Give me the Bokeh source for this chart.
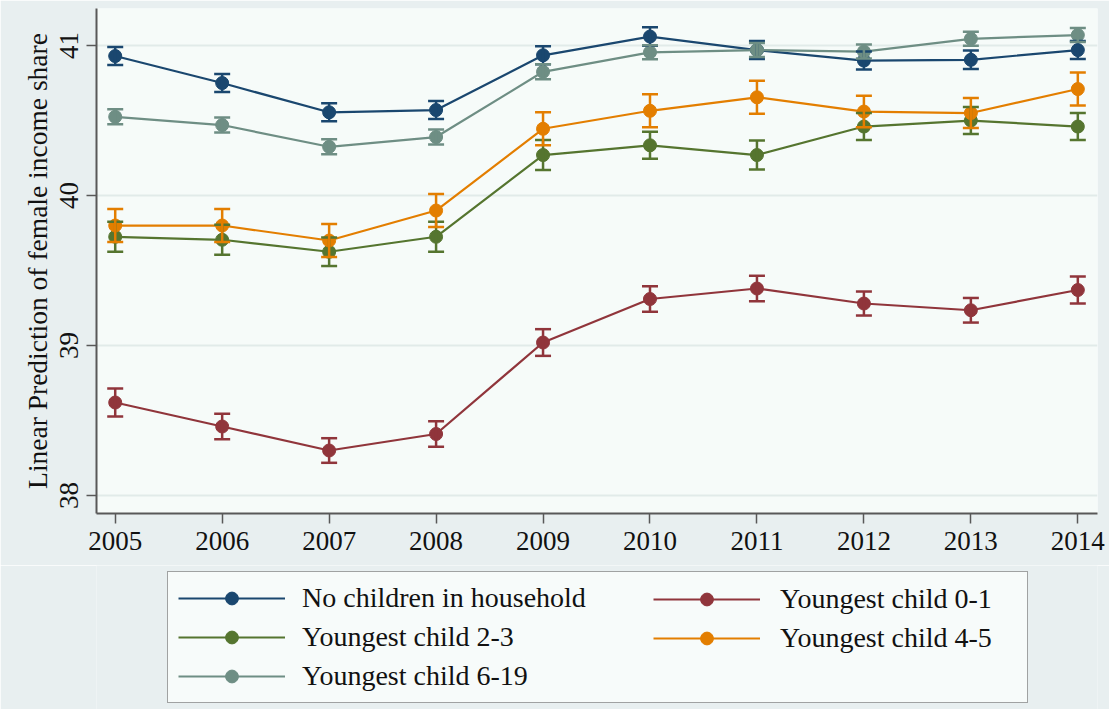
from bokeh.plotting import figure
from bokeh.layouts import column
from bokeh.models import (ColumnDataSource, Whisker, TeeHead, Range1d, FixedTicker,
                          Legend, LegendItem)
from bokeh.embed import file_html
from bokeh.resources import INLINE

# ---- data ----
years = [2005, 2006, 2007, 2008, 2009, 2010, 2011, 2012, 2013, 2014]

series_names = ["No children in household", "Youngest child 0-1", "Youngest child 2-3",
                "Youngest child 4-5", "Youngest child 6-19"]

no_children = [40.93, 40.75, 40.555, 40.57, 40.935, 41.06, 40.97, 40.90, 40.905, 40.97]
child_0_1 = [38.62, 38.46, 38.30, 38.41, 39.02, 39.31, 39.38, 39.28, 39.235, 39.37]
child_2_3 = [39.725, 39.705, 39.625, 39.725, 40.27, 40.335, 40.27, 40.46, 40.50, 40.46]
child_4_5 = [39.80, 39.80, 39.70, 39.90, 40.445, 40.565, 40.655, 40.56, 40.55, 40.71]
child_6_19 = [40.525, 40.47, 40.325, 40.39, 40.825, 40.955, 40.97, 40.96, 41.045, 41.07]

# half-widths of the confidence intervals
ci_no_children = [0.06, 0.06, 0.06, 0.06, 0.06, 0.062, 0.06, 0.06, 0.062, 0.06]
ci_0_1 = [0.093, 0.085, 0.082, 0.085, 0.089, 0.085, 0.085, 0.08, 0.082, 0.09]
ci_2_3 = [0.10, 0.10, 0.095, 0.10, 0.10, 0.09, 0.097, 0.09, 0.09, 0.09]
ci_4_5 = [0.11, 0.11, 0.11, 0.11, 0.11, 0.11, 0.11, 0.105, 0.10, 0.11]
ci_6_19 = [0.05, 0.05, 0.05, 0.05, 0.05, 0.047, 0.047, 0.047, 0.047, 0.047]

y_ticks = [38, 39, 40, 41]
y_label = "Linear Prediction of female income share"

colors = ["#1a476f", "#90353b", "#55752f", "#e37e00", "#6e8e84"]

values = [no_children, child_0_1, child_2_3, child_4_5, child_6_19]
cis = [ci_no_children, ci_0_1, ci_2_3, ci_4_5, ci_6_19]

FONT = "Liberation Serif"
FS = "27px"
OUTER = "#e8eff0"
INNER = "#f6fbf9"

W = 1109
p = figure(width=W, height=565, output_backend="svg", toolbar_location=None,
           x_range=Range1d(2004.825, 2014.184), y_range=Range1d(37.88, 41.247),
           min_border_left=96, min_border_right=12, min_border_top=8, min_border_bottom=52)

p.background_fill_color = INNER
p.border_fill_color = OUTER
p.outline_line_color = None

p.xgrid.grid_line_color = None
p.ygrid.grid_line_color = "#e1ebe9"
p.ygrid.grid_line_width = 2

p.xaxis.ticker = FixedTicker(ticks=years)
p.yaxis.ticker = FixedTicker(ticks=y_ticks)
p.yaxis.major_label_orientation = "vertical"
p.yaxis.axis_label = y_label

for ax in (p.xaxis, p.yaxis):
    ax.axis_line_color = "#585858"
    ax.axis_line_width = 2
    ax.major_tick_line_color = "#585858"
    ax.major_tick_line_width = 1.5
    ax.major_tick_out = 10
    ax.major_tick_in = 0
    ax.minor_tick_line_color = None
    ax.major_label_text_font = FONT
    ax.major_label_text_font_size = FS
    ax.major_label_text_color = "#111111"
    ax.axis_label_text_font = FONT
    ax.axis_label_text_font_size = "27.5px"
    ax.axis_label_text_font_style = "normal"
    ax.axis_label_text_color = "#111111"

p.xaxis.major_label_standoff = 8
p.yaxis.major_label_standoff = 8
p.yaxis.axis_label_standoff = 5

# ---- legend figure: same frame edges as the main plot ----
LH = 709 - 565
pl = figure(width=W, height=LH, output_backend="svg", toolbar_location=None,
            x_range=Range1d(0, 1), y_range=Range1d(0, 1),
            min_border_left=96, min_border_right=12, min_border_top=0, min_border_bottom=0)
pl.axis.visible = False
pl.grid.grid_line_color = None
pl.background_fill_color = OUTER
pl.border_fill_color = OUTER
pl.outline_line_color = None

items = []
for name, vals, ci, col in zip(series_names, values, cis, colors):
    src = ColumnDataSource(dict(x=years, y=vals,
                                lo=[v - c for v, c in zip(vals, ci)],
                                hi=[v + c for v, c in zip(vals, ci)]))
    w = Whisker(source=src, base="x", lower="lo", upper="hi", dimension="height",
                line_color=col, line_width=2.5,
                lower_head=TeeHead(size=16, line_color=col, line_width=2.5),
                upper_head=TeeHead(size=16, line_color=col, line_width=2.5))
    w.level = "glyph"
    p.add_layout(w)
    p.line("x", "y", source=src, line_color=col, line_width=2.2)
    p.scatter("x", "y", source=src, size=13, fill_color=col, line_color=col)
    # legend-key renderers: same data, but outside this figure's view, so only keys show
    lr = pl.line("x", "y", source=src, line_color=col, line_width=2.2)
    sr = pl.scatter("x", "y", source=src, size=13, fill_color=col, line_color=col)
    items.append(LegendItem(label=name, renderers=[lr, sr]))

common = dict(label_text_font=FONT, label_text_font_size="28px", label_text_color="#111111",
              glyph_width=107, glyph_height=32, label_height=32, spacing=7)

# box 167..1026 x, bottom 6 px above the figure bottom
leg1 = Legend(items=[items[0], items[2], items[4]], location=(71, 6), label_width=715,
              padding=10, label_standoff=17,
              background_fill_color="#f7fbfa", background_fill_alpha=1.0,
              border_line_color="#4a4a4a", border_line_width=1.5, **common)
# border-less legend: padding collapses to 0, so place it at its glyph edge
leg2 = Legend(items=[items[1], items[3]], location=(557, 55), label_width=200,
              padding=0, label_standoff=20,
              background_fill_alpha=0.0, border_line_color=None, **common)
pl.add_layout(leg1, "center")
pl.add_layout(leg2, "center")

layout = column(p, pl, spacing=0)
open("out.html", "w").write(file_html(layout, INLINE))
